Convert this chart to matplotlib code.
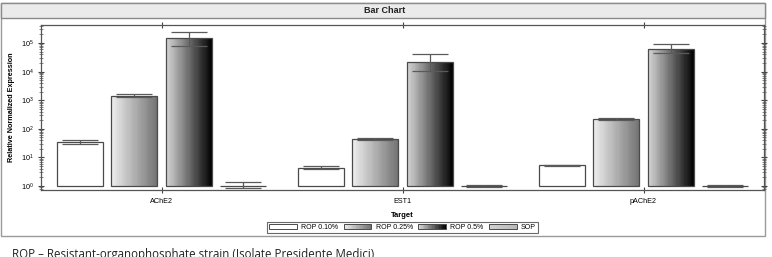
import matplotlib
matplotlib.use('Agg')
import matplotlib.pyplot as plt
from matplotlib.patches import Rectangle, Patch
from matplotlib.colors import LinearSegmentedColormap
from matplotlib.legend_handler import HandlerBase
import numpy as np

# data
targets = ['AChE2', 'EST1', 'pAChE2']
series = ['ROP 0.10%', 'ROP 0.25%', 'ROP 0.5%', 'SOP']
values = {
    'ROP 0.10%': [35, 4.4, 5.4],
    'ROP 0.25%': [1400, 44, 220],
    'ROP 0.5%': [145000, 21000, 62000],
    'SOP': [1.0, 1.0, 1.0],
}
err_low = {
    'ROP 0.10%': [30, 3.8, 5.2],
    'ROP 0.25%': [1250, 41, 210],
    'ROP 0.5%': [80000, 10500, 46000],
    'SOP': [0.85, 0.95, 0.95],
}
err_high = {
    'ROP 0.10%': [40, 5.0, 5.6],
    'ROP 0.25%': [1600, 48, 230],
    'ROP 0.5%': [237000, 41000, 93000],
    'SOP': [1.38, 1.08, 1.08],
}

# gradient colours (left -> right) for each series
grad = {
    'ROP 0.10%': ('#ffffff', '#ffffff'),
    'ROP 0.25%': ('#ececec', '#747474'),
    'ROP 0.5%': ('#d6d6d6', '#050505'),
    'SOP': ('#d0d0d0', '#b8b8b8'),
}

W, H = 772, 257
plt.rcParams['font.family'] = ['Liberation Sans', 'DejaVu Sans']

fig = plt.figure(figsize=(W / 100, H / 100), dpi=100)


def fx(px):
    return px / W


def fy(py):
    return 1 - py / H


class GradientHandler(HandlerBase):
    # draws the legend swatch as a left-to-right gradient box
    def create_artists(self, legend, orig_handle, xdescent, ydescent,
                       width, height, fontsize, trans):
        cmap = LinearSegmentedColormap.from_list('g', list(grad[orig_handle.get_label()]))
        n = 20
        arts = []
        for i in range(n):
            arts.append(Rectangle((-xdescent + i * width / n, -ydescent), width / n * 1.05, height,
                                  facecolor=cmap(i / (n - 1)), linewidth=0, transform=trans))
        arts.append(Rectangle((-xdescent, -ydescent), width, height, fill=False,
                              edgecolor='#4a4a4a', linewidth=0.7, transform=trans))
        return arts


# outer panel and title banner
fig.patches.append(Rectangle((fx(1), fy(236)), fx(765) - fx(1), fy(3) - fy(236),
                             transform=fig.transFigure, facecolor='none',
                             edgecolor='#9a9a9a', linewidth=1.0, zorder=0))
fig.patches.append(Rectangle((fx(1), fy(18)), fx(765) - fx(1), fy(3) - fy(18),
                             transform=fig.transFigure, facecolor='#ebebeb',
                             edgecolor='#8a8a8a', linewidth=1.0, zorder=1))
fig.text(fx(385), fy(10.5), 'Bar Chart', ha='center', va='center',
         fontsize=6.5, fontweight='bold', color='#222222')

ax = fig.add_axes([fx(41), fy(190), fx(764) - fx(41), fy(25) - fy(190)])
ax.set_zorder(5)
ax.set_yscale('log')

x = np.arange(len(targets))
offsets = [-0.3375, -0.1125, 0.1125, 0.3375]
bw = 0.19
nslice = 40

for s, off in zip(series, offsets):
    cmap = LinearSegmentedColormap.from_list(s, list(grad[s]))
    vals = np.array(values[s])
    for xi, v in zip(x + off, vals):
        left = xi - bw / 2
        for i in range(nslice):
            ax.bar(left + (i + 0.5) * bw / nslice, v - 1, bottom=1,
                   width=bw / nslice * 1.05, color=cmap(i / (nslice - 1)),
                   linewidth=0, zorder=2)
    ax.bar(x + off, vals - 1, bottom=1, width=bw, fill=False,
           edgecolor='#4a4a4a', linewidth=0.9, zorder=3)
    lo = vals - np.array(err_low[s])
    hi = np.array(err_high[s]) - vals
    ax.errorbar(x + off, vals, yerr=[lo, hi], fmt='none', ecolor='#5a5a5a',
                elinewidth=0.9, capsize=13, capthick=0.9, zorder=4)

ax.set_xlim(-0.5, 2.5)
ax.set_ylim(10 ** -0.14, 10 ** 5.63)
ax.set_xticks(x)
ax.set_xticklabels(targets, fontsize=5.2)
ax.tick_params(axis='x', direction='inout', length=4, width=0.8, top=True,
               color='#444444', pad=4)
ax.tick_params(axis='y', which='major', direction='inout', length=5, width=0.8,
               right=True, labelsize=5.2, color='#444444', pad=3)
ax.tick_params(axis='y', which='minor', direction='inout', length=3, width=0.5,
               right=True, color='#555555')
ax.yaxis.set_minor_locator(matplotlib.ticker.LogLocator(base=10, subs=np.arange(2, 10), numticks=20))
ax.yaxis.set_minor_formatter(matplotlib.ticker.NullFormatter())
for sp in ax.spines.values():
    sp.set_color('#555555')
    sp.set_linewidth(0.9)

ax.set_xlabel('Target', fontsize=5.5, fontweight='bold', labelpad=5)
ax.set_ylabel('Relative Normalized Expression', fontsize=5.2, fontweight='bold', labelpad=4)

handles = [Patch(label=s) for s in series]
leg = fig.legend(handles, series, ncol=4, loc='center',
                 bbox_to_anchor=(fx(402.5), fy(227.5)), fontsize=5,
                 handlelength=4.0, handleheight=0.7, columnspacing=0.8,
                 handletextpad=0.6, borderpad=0.35, frameon=True, fancybox=False,
                 handler_map={Patch: GradientHandler()})
leg.get_frame().set_edgecolor('#444444')
leg.get_frame().set_linewidth(0.8)

fig.text(fx(12), fy(248), 'ROP \u2013 Resistant-organophosphate strain (Isolate Presidente Medici)',
         ha='left', va='top', fontsize=8.3, family=['Open Sans', 'DejaVu Sans'],
         color='#222222')

fig.savefig('out.png', dpi=100)
